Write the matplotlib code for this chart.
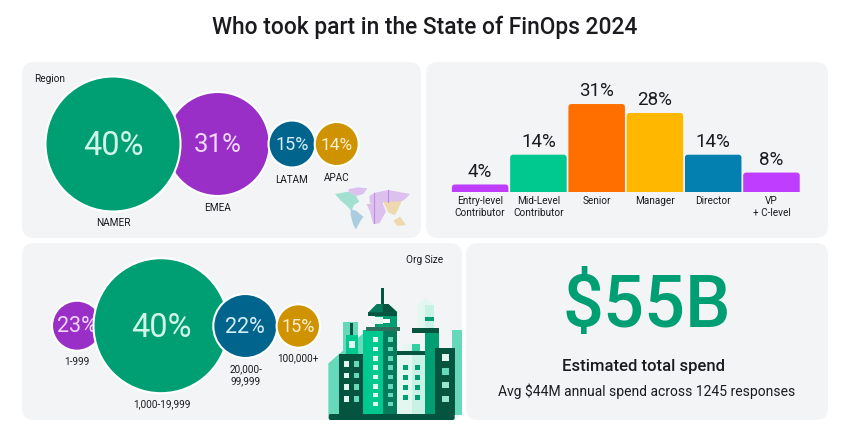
import matplotlib
matplotlib.use("Agg")
from matplotlib import pyplot as plt
from matplotlib.patches import Circle, FancyBboxPatch, Polygon, Rectangle

plt.rcParams["font.family"] = ["Roboto", "DejaVu Sans"]

# data
regions = ["NAMER", "EMEA", "LATAM", "APAC"]
region_share = [40, 31, 15, 14]
sizes = ["1-999", "1,000-19,999", "20,000-\n99,999", "100,000+"]
size_share = [23, 40, 22, 15]
roles = ["Entry-level\nContributor", "Mid-Level\nContributor", "Senior", "Manager", "Director", "VP\n+ C-level"]
role_share = [4, 14, 31, 28, 14, 8]
spend_big = "$55B"
spend_title = "Estimated total spend"
spend_note = "Avg $44M annual spend across 1245 responses"

# colours / layout, in pixels
GREEN, PURPLE, BLUE, GOLD = "#009e73", "#9a2fc7", "#00648c", "#cf9200"
DARK, MID, BRIGHT, PALE, PALE2, TEAL = "#04543f", "#057a5c", "#00c98f", "#e3f7f1", "#c8f2e6", "#66d9bb"
CARD = "#f3f4f6"
INK = "#1b1b1f"

# x, y, radius, fill, text colour, font size, stacking
region_bubbles = [(113, 144, 67.5, GREEN, "#d0f5e8", 23.5, 3), (217.7, 144, 52, PURPLE, "#f0d8fb", 18.5, 2),
                  (292, 144, 23.5, BLUE, "#d5eefa", 13, 3), (336.7, 144, 22, GOLD, "#fdf0cf", 12.5, 3)]
region_labels = [(113, 223), (217.5, 208), (292, 180), (336.7, 178)]
size_bubbles = [(77, 325.7, 25, PURPLE, "#f0d8fb", 15.5, 2), (161, 325.7, 67.5, GREEN, "#d0f5e8", 23.5, 3),
                (245.3, 326, 32, BLUE, "#d5eefa", 15.5, 3), (298.3, 326, 21.7, GOLD, "#fdf0cf", 13, 3)]
size_labels = [(76.7, 361.7), (161.7, 404.7), (246, 375), (297.7, 358.7)]
bar_colors = ["#bf3dff", BRIGHT, "#ff6f00", "#ffb700", "#0380b0", "#bf3dff"]

fig = plt.figure(figsize=(8.53, 4.37), dpi=100)
ax = fig.add_axes([0, 0, 1, 1])
ax.set_xlim(0, 853)
ax.set_ylim(437, 0)
ax.axis("off")

ax.text(425, 27, "Who took part in the State of FinOps 2024", ha="center", va="center",
        fontsize=16.4, fontweight="medium", color=INK)

for x0, y0, x1, y1 in [(22, 62, 421, 238), (426, 62, 828, 238), (22, 243, 462, 420), (466, 243, 828, 420)]:
    ax.add_patch(FancyBboxPatch((x0 + 12, y0 + 12), x1 - x0 - 24, y1 - y0 - 24,
                                boxstyle="round,pad=12,rounding_size=12", fc=CARD, ec="none", zorder=1))


def bubbles(shares, names, layout, labels):
    for val, name, (x, y, r, c, tc, fs, z), (lx, ly) in zip(shares, names, layout, labels):
        ax.add_patch(Circle((x, y), r, fc=c, ec="white", lw=1.5, zorder=z))
        ax.text(x, y + fs * 0.08, f"{val}%", ha="center", va="center", fontsize=fs, color=tc, zorder=z + 0.5)
        ax.text(lx, ly, name, ha="center", va="center", fontsize=7.2, color=INK, linespacing=1.25, zorder=6)


bubbles(region_share, regions, region_bubbles, region_labels)
bubbles(size_share, sizes, size_bubbles, size_labels)
ax.text(34, 79, "Region", ha="left", va="center", fontsize=7.2, color=INK)
ax.text(443, 260, "Org Size", ha="right", va="center", fontsize=7.2, color=INK)

# role bars
bx = fig.add_axes([451 / 853, 1 - 192 / 437, 349.6 / 853, 117 / 437])
bx.patch.set_alpha(0)
y0 = 1.48
bx.set_xlim(-0.5, 5.5)
bx.set_ylim(y0, y0 + 117 / 2.98)
bx.axis("off")
aspect = (349.6 / 6) / 2.98
for i, (val, col) in enumerate(zip(role_share, bar_colors)):
    p = FancyBboxPatch((i - 0.485, -3), 0.97, val + 3, boxstyle="round,pad=0,rounding_size=0.05",
                       mutation_aspect=aspect, fc=col, ec="none")
    bx.add_patch(p)
    bx.text(i, val + 1.3, f"{val}%", ha="center", va="bottom", fontsize=13.5, color=INK)
    ax.text(451 + (i + 0.5) * 58.27, 196, roles[i], ha="center", va="top", fontsize=7.2, color=INK, linespacing=1.3, zorder=6)

# spend card
ax.text(647, 308, spend_big, ha="center", va="center", fontsize=52, fontweight="medium", color=GREEN, zorder=6)
ax.text(644, 366, spend_title, ha="center", va="center", fontsize=12, fontweight="medium", color=INK, zorder=6)
ax.text(647, 391, spend_note, ha="center", va="center", fontsize=10, color=INK, zorder=6)


# city illustration, coordinates on a 3x sketch grid
def cx(x):
    return 320 + x / 3


def cy(y):
    return 280 + y / 3


def rect(x0, y0, x1, y1, c, z=4):
    ax.add_patch(Rectangle((cx(x0), cy(y0)), (x1 - x0) / 3, (y1 - y0) / 3, fc=c, ec="none", zorder=z))


def poly(pts, c, z=4):
    ax.add_patch(Polygon([(cx(a), cy(b)) for a, b in pts], fc=c, ec="none", zorder=z))


poly([(25, 250), (130, 160), (130, 405), (25, 405)], TEAL)
rect(70, 125, 115, 225, TEAL)
rect(90, 130, 99, 165, DARK)
rect(77, 165, 115, 225, BRIGHT)
rect(88, 183, 105, 205, PALE)
rect(395, 150, 426, 405, TEAL)
poly([(292, 75), (316, 55), (342, 75), (342, 145), (292, 145)], PALE)
rect(316, 75, 342, 145, PALE2)
rect(316, 110, 342, 122, GREEN)
rect(130, 150, 188, 405, BRIGHT)
rect(188, 150, 232, 405, MID)
rect(165, 108, 232, 142, GREEN)
rect(165, 112, 190, 132, PALE)
rect(188, 118, 210, 130, "white")
rect(137, 140, 240, 152, "#2f6f5e")
rect(144, 97, 232, 109, DARK)
poly([(145, 97), (170, 72), (205, 72), (232, 97)], MID)
poly([(188, 72), (205, 72), (232, 97), (188, 97)], DARK)
rect(184, 25, 193, 72, DARK)
for wy in [172, 200, 228, 256, 284, 312, 338, 365]:
    rect(160, wy, 173, wy + 14, PALE)
    rect(205, wy, 219, wy + 14, TEAL)
rect(248, 192, 275, 212, PALE)
rect(275, 192, 300, 212, "#33cfa3")
rect(232, 225, 275, 405, PALE)
rect(275, 225, 315, 405, PALE2)
rect(232, 212, 315, 225, DARK)
for wy in [255, 285, 315, 345]:
    rect(248, wy, 263, wy + 15, GREEN)
    rect(285, wy, 300, wy + 15, GREEN)
rect(315, 158, 358, 405, GREEN)
rect(276, 145, 358, 158, DARK)
rect(345, 205, 405, 405, DARK)
for wy, c in [(222, PALE), (265, TEAL), (305, "#99e5cf"), (347, "#99e5cf")]:
    rect(366, wy, 386, wy + 20, c)
rect(58, 222, 130, 405, DARK)
for wy in [243, 278, 313, 348]:
    rect(72, wy, 88, wy + 17, PALE)
    rect(102, wy, 118, wy + 17, TEAL)
ax.add_patch(FancyBboxPatch((cx(32), cy(408)), 122, 2, boxstyle="round,pad=2,rounding_size=2", fc=DARK, ec="none", zorder=4))


# world map illustration
def mx(x):
    return 320 + x / 3


def my(y):
    return 170 + y / 3


def land(pts, c):
    ax.add_patch(Polygon([(mx(a), my(b)) for a, b in pts], fc=c, ec="none", zorder=4))


land([(85, 58), (115, 52), (142, 55), (130, 72), (108, 78), (88, 68)], "#cfa2ea")
land([(45, 72), (85, 65), (108, 78), (118, 95), (102, 105), (95, 122), (78, 105), (62, 92)], "#74d5bb")
land([(92, 118), (108, 122), (130, 140), (120, 155), (108, 178), (100, 165), (92, 135)], "#7fb9d2")
land([(148, 78), (165, 68), (205, 60), (270, 72), (255, 88), (240, 96), (190, 96), (185, 105), (150, 100)], "#cfa2ea")
land([(140, 102), (188, 100), (198, 125), (178, 160), (160, 162), (150, 125)], "#cfa2ea")
land([(190, 96), (245, 94), (232, 122), (225, 135), (205, 128)], "#eccb85")
land([(220, 152), (240, 140), (258, 165), (232, 168)], "#eccb85")
ax.plot([mx(163)] * 2, [my(70), my(160)], color="#a24fd8", lw=0.8, zorder=5)
ax.plot([mx(205)] * 2, [my(60), my(95)], color="#a24fd8", lw=0.8, zorder=5)
for gx in range(40, 275, 6):
    ax.plot([mx(gx)] * 2, [my(50), my(182)], color=CARD, lw=0.3, zorder=6)
for gy in range(50, 182, 6):
    ax.plot([mx(40), mx(275)], [my(gy)] * 2, color=CARD, lw=0.3, zorder=6)

fig.savefig("out.png", dpi=100)
